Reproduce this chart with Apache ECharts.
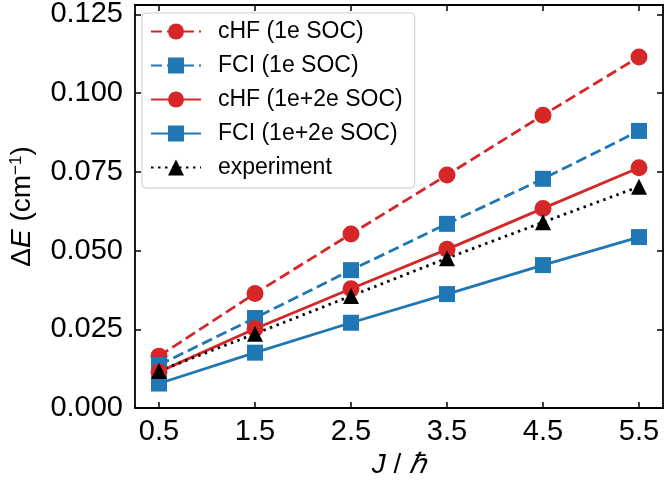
<!DOCTYPE html>
<html>
<head>
<meta charset="utf-8">
<script src="https://cdn.jsdelivr.net/npm/echarts@6/dist/echarts.min.js"></script>
<style>
html,body{margin:0;padding:0;background:#fff;}
#c{width:666px;height:484px;}
</style>
</head>
<body>
<div id="c"></div>
<script>
const xVals = [0.5, 1.5, 2.5, 3.5, 4.5, 5.5];
const yTicks = [0, 0.025, 0.05, 0.075, 0.1, 0.125];
const chf1e = [0.0165, 0.0364, 0.0553, 0.0740, 0.0930, 0.1115];
const fci1e = [0.0137, 0.0286, 0.0438, 0.0585, 0.0728, 0.0880];
const chf12 = [0.0115, 0.0252, 0.0379, 0.0504, 0.0634, 0.0763];
const fci12 = [0.0078, 0.0176, 0.0271, 0.0362, 0.0454, 0.0543];
const expt  = [0.0118, 0.0236, 0.0356, 0.0476, 0.0590, 0.0703];
const names = ['cHF (1e SOC)', 'FCI (1e SOC)', 'cHF (1e+2e SOC)', 'FCI (1e+2e SOC)', 'experiment'];

const RED = '#d62728', BLUE = '#1f77b4', BLACK = '#000';
const FONT = 'Liberation Sans, Arial, Helvetica, sans-serif';

function pts(arr) { return xVals.map((x, i) => [x, arr[i]]); }

function mk(name, arr, color, symbol, size, dash) {
  return {
    name: name, type: 'line', xAxisIndex: 0, yAxisIndex: 0,
    data: pts(arr), symbol: symbol, symbolSize: size,
    showAllSymbol: true,
    lineStyle: { color: color, width: 2.8, type: dash },
    itemStyle: { color: color, borderWidth: 0 },
    emphasis: { disabled: true },
    animation: false
  };
}

const axLine = { show: true, onZero: false, lineStyle: { color: '#000', width: 1.8 } };
const tickX = { show: true, inside: true, length: 6, lineStyle: { color: '#000', width: 1.5 }, customValues: xVals };
const tickY = { show: true, inside: true, length: 6, lineStyle: { color: '#000', width: 1.5 }, customValues: yTicks };

const chart = echarts.init(document.getElementById('c'));
chart.setOption({
  backgroundColor: '#fff',
  animation: false,
  grid: { left: 130, right: 3, top: 1, bottom: 71, containLabel: false },
  xAxis: [
    { type: 'value', position: 'bottom', min: 0.25, max: 5.75,
      axisLine: axLine, axisTick: tickX, splitLine: { show: false },
      axisLabel: { customValues: xVals, margin: 9, color: '#000', fontSize: 29, fontFamily: FONT,
        formatter: v => v.toFixed(1) },
      name: '{i|J} / {i|ℏ}', nameLocation: 'middle', nameGap: 38,
      nameTextStyle: { color: '#000', fontSize: 28, fontFamily: FONT,
        rich: { i: { fontStyle: 'italic', fontSize: 28, fontFamily: FONT, color: '#000' } } }
    },
    { type: 'value', position: 'top', min: 0.25, max: 5.75,
      axisLine: axLine, axisTick: tickX, splitLine: { show: false },
      axisLabel: { show: false } }
  ],
  yAxis: [
    { type: 'value', position: 'left', min: 0, max: 0.128,
      axisLine: axLine, axisTick: tickY, splitLine: { show: false },
      axisLabel: { customValues: yTicks, margin: 12, color: '#000', fontSize: 29, fontFamily: FONT,
        formatter: v => v.toFixed(3) },
      name: '{n|Δ}{i|E}{n| (cm}{s|−1}{n|)}', nameLocation: 'middle', nameGap: 98, nameRotate: 90,
      nameTextStyle: { color: '#000', fontSize: 28, fontFamily: FONT,
        rich: {
          n: { fontSize: 28, fontFamily: FONT, color: '#000' },
          i: { fontSize: 28, fontFamily: FONT, fontStyle: 'italic', color: '#000' },
          s: { fontSize: 17, fontFamily: FONT, color: '#000', verticalAlign: 'top', padding: [0, 0, 12, 0] }
        } }
    },
    { type: 'value', position: 'right', min: 0, max: 0.128,
      axisLine: axLine, axisTick: tickY, splitLine: { show: false },
      axisLabel: { show: false } }
  ],
  legend: {
    data: names,
    orient: 'vertical', left: 142, top: 13,
    itemWidth: 50, itemHeight: 20, itemGap: 11,
    padding: [7, 12, 9, 8],
    backgroundColor: 'rgba(255,255,255,0.85)',
    borderColor: '#cccccc', borderWidth: 1, borderRadius: 4,
    textStyle: { color: '#000', fontSize: 23, fontFamily: FONT, lineHeight: 23, padding: [0, 0, 0, 12] },
    selectedMode: false
  },
  series: [
    mk(names[0], chf1e, RED, 'circle', 17, [11, 5]),
    mk(names[1], fci1e, BLUE, 'rect', 16, [11, 5]),
    mk(names[2], chf12, RED, 'circle', 17, 'solid'),
    mk(names[3], fci12, BLUE, 'rect', 16, 'solid'),
    mk(names[4], expt, BLACK, 'triangle', 16, [2.5, 4.5])
  ]
});
</script>
</body>
</html>
